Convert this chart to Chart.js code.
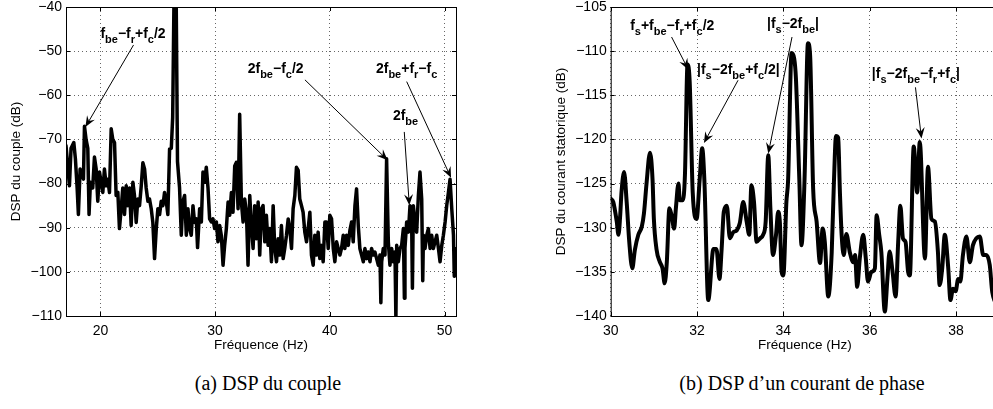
<!DOCTYPE html>
<html lang="fr">
<head>
<meta charset="utf-8">
<script src="https://cdn.jsdelivr.net/npm/chart.js@4.4.0/dist/chart.umd.min.js"></script>
<style>
  html, body { margin: 0; padding: 0; background: #fff; overflow: hidden; width: 993px; height: 409px; }
  canvas { position: absolute; top: 0; }
  #chartCouple { left: 0; }
  #chartCourant { left: 540px; }
  .legende { position: absolute; top: 371px; width: 320px; line-height: 24px; text-align: center;
             font-family: 'Liberation Serif', 'DejaVu Serif', serif; font-size: 20px; color: #000; white-space: nowrap; }
</style>
</head>
<body>
<canvas id="chartCouple" width="480" height="360"></canvas>
<canvas id="chartCourant" width="470" height="360"></canvas>
<div class="legende" style="left:108px">(a) DSP du couple</div>
<div class="legende" style="left:642px">(b) DSP d’un courant de phase</div>

<script>
// Données : DSP du couple (Hz, dB)
const freqCouple = [
  17.00, 17.15, 17.30, 17.44, 17.68, 17.82, 17.97, 18.08, 18.23, 18.37, 18.52, 18.61, 18.75, 18.90, 19.01, 19.13,
  19.33, 19.48, 19.63, 19.77, 19.92, 20.06, 20.21, 20.35, 20.50, 20.64, 20.79, 20.94, 21.08, 21.23, 21.37, 21.52,
  21.66, 21.81, 21.95, 22.10, 22.25, 22.39, 22.54, 22.68, 22.83, 22.97, 23.12, 23.26, 23.41, 23.56, 23.70, 23.85,
  23.99, 24.14, 24.28, 24.43, 24.57, 24.72, 24.87, 25.01, 25.16, 25.30, 25.45, 25.59, 25.74, 25.88, 26.03, 26.18,
  26.30, 26.45, 26.58, 26.72, 26.90, 27.05, 27.19, 27.34, 27.49, 27.63, 27.78, 27.92, 28.07, 28.21, 28.36, 28.47,
  28.65, 28.80, 28.94, 29.09, 29.23, 29.38, 29.52, 29.67, 29.81, 29.96, 30.11, 30.25, 30.40, 30.54, 30.69, 30.83,
  30.98, 31.13, 31.27, 31.42, 31.56, 31.71, 31.85, 32.00, 32.14, 32.29, 32.44, 32.58, 32.73, 32.87, 33.02, 33.16,
  33.31, 33.45, 33.60, 33.75, 33.89, 34.04, 34.18, 34.33, 34.47, 34.62, 34.76, 34.91, 35.06, 35.20, 35.35, 35.49,
  35.64, 35.78, 35.93, 36.07, 36.22, 36.37, 36.51, 36.66, 36.80, 36.95, 37.09, 37.24, 37.38, 37.53, 37.67, 37.82,
  37.97, 38.11, 38.26, 38.40, 38.55, 38.69, 38.84, 38.98, 39.13, 39.28, 39.42, 39.57, 39.71, 39.86, 40.00, 40.15,
  40.30, 40.44, 40.59, 40.73, 40.88, 41.02, 41.17, 41.31, 41.46, 41.61, 41.75, 41.90, 42.04, 42.19, 42.33, 42.48,
  42.62, 42.77, 42.92, 43.06, 43.21, 43.35, 43.50, 43.64, 43.79, 43.93, 44.08, 44.23, 44.37, 44.45, 44.52, 44.66,
  44.81, 44.95, 45.10, 45.24, 45.39, 45.54, 45.68, 45.76, 45.83, 45.97, 46.12, 46.26, 46.41, 46.50, 46.55, 46.70,
  46.85, 46.99, 47.14, 47.20, 47.28, 47.43, 47.57, 47.72, 47.86, 48.01, 48.10, 48.16, 48.30, 48.45, 48.59, 48.74,
  48.88, 49.03, 49.17, 49.32, 49.47, 49.61, 49.76, 49.90, 50.05, 50.19, 50.34, 50.48, 50.63, 50.78, 50.85, 50.92,
  51.07
]
const dspCouple = [
  -71.4, -76.0, -80.5, -72.0, -70.7, -74.4, -81.0, -87.0, -76.7, -77.4, -79.0, -67.0, -70.0, -72.0, -87.0, -79.7,
  -81.0, -74.0, -76.7, -84.0, -77.4, -79.7, -82.0, -76.7, -80.5, -79.0, -82.0, -67.6, -70.0, -70.7, -82.7, -82.0,
  -90.2, -85.7, -81.0, -87.0, -80.5, -85.0, -81.0, -89.5, -79.7, -82.7, -88.8, -83.5, -85.0, -80.5, -75.3, -76.7,
  -81.0, -84.0, -83.5, -85.7, -88.8, -97.0, -90.2, -85.7, -87.0, -84.0, -85.0, -82.0, -84.0, -87.0, -72.2, -72.0,
  -65.0, -30.0, -30.0, -75.0, -81.0, -91.7, -84.0, -82.7, -91.7, -85.7, -90.2, -91.7, -85.0, -88.8, -88.0, -94.5,
  -85.7, -88.7, -77.4, -79.7, -76.3, -81.0, -88.0, -88.7, -88.0, -90.2, -88.7, -93.2, -89.5, -91.7, -98.5, -94.0,
  -90.2, -84.2, -87.2, -82.0, -86.5, -76.0, -75.2, -85.7, -64.3, -84.2, -88.7, -83.5, -86.5, -98.5, -82.7, -89.5,
  -94.7, -85.0, -92.5, -84.2, -96.2, -85.7, -85.0, -93.2, -87.2, -94.0, -90.2, -97.7, -85.0, -94.7, -97.7, -92.5,
  -96.2, -89.5, -97.0, -94.7, -91.7, -88.0, -90.2, -94.7, -85.7, -82.7, -76.3, -77.0, -83.5, -85.0, -86.5, -91.0,
  -93.2, -90.2, -86.5, -96.2, -98.5, -91.7, -96.2, -91.0, -97.0, -94.0, -97.7, -88.7, -88.7, -94.7, -87.2, -88.0,
  -94.7, -97.7, -93.2, -94.7, -96.2, -94.7, -91.7, -94.7, -91.7, -94.0, -90.6, -88.7, -93.2, -85.0, -81.2, -89.5,
  -94.7, -96.2, -97.7, -94.7, -97.0, -95.5, -97.7, -94.7, -96.2, -95.5, -97.0, -98.5, -96.2, -107.0, -97.7, -94.7,
  -96.2, -74.4, -93.2, -98.5, -94.7, -97.7, -95.5, -110.5, -94.0, -97.7, -94.7, -94.0, -90.2, -106.0, -94.7, -88.7,
  -91.0, -85.0, -90.2, -103.7, -85.0, -88.7, -91.0, -82.7, -77.4, -83.5, -102.0, -91.7, -94.7, -91.7, -90.2, -94.7,
  -91.7, -94.7, -93.2, -91.7, -94.7, -97.7, -94.0, -91.7, -88.7, -85.0, -82.0, -79.0, -85.7, -91.7, -101.0, -94.7,
  -96.0
]

// Données : DSP d'un courant de phase (Hz, dB)
const freqCourant = [
  30.00, 30.06, 30.14, 30.18, 30.22, 30.25, 30.31, 30.37, 30.43, 30.50, 30.56, 30.64, 30.72, 30.77, 30.83, 30.91,
  30.97, 31.00, 31.06, 31.14, 31.20, 31.25, 31.30, 31.36, 31.41, 31.47, 31.51, 31.57, 31.60, 31.67, 31.72, 31.78,
  31.83, 31.90, 31.99, 32.06, 32.12, 32.17, 32.26, 32.38, 32.45, 32.52, 32.57, 32.62, 32.69, 32.76, 32.84, 32.92,
  32.99, 33.07, 33.15, 33.21, 33.26, 33.32, 33.38, 33.46, 33.53, 33.59, 33.65, 33.70, 33.76, 33.83, 33.88, 33.92,
  33.96, 34.00, 34.07, 34.11, 34.19, 34.25, 34.29, 34.37, 34.42, 34.49, 34.57, 34.62, 34.69, 34.77, 34.85, 34.91,
  34.96, 35.04, 35.12, 35.17, 35.22, 35.27, 35.31, 35.35, 35.40, 35.46, 35.54, 35.62, 35.66, 35.71, 35.77, 35.85,
  35.91, 35.96, 36.04, 36.12, 36.16, 36.22, 36.27, 36.35, 36.41, 36.46, 36.53, 36.60, 36.66, 36.71, 36.77, 36.83,
  36.89, 36.93, 37.02, 37.10, 37.16, 37.28, 37.35, 37.43, 37.51, 37.58, 37.62, 37.68, 37.74, 37.82, 37.87, 37.93,
  37.99, 38.05, 38.10, 38.16, 38.24, 38.32, 38.39, 38.47, 38.55, 38.63, 38.70, 38.78, 38.84, 39.00
]
const dspCourant = [
  -126.7, -127.1, -129.3, -130.8, -128.6, -126.0, -123.7, -127.1, -131.6, -134.6, -132.5, -130.8, -129.9, -128.4, -125.0, -121.5,
  -124.6, -129.0, -132.4, -133.9, -134.6, -136.3, -133.9, -127.8, -128.6, -130.1, -127.8, -125.0, -126.9, -126.9, -124.0, -111.5,
  -113.5, -126.0, -129.0, -124.6, -121.0, -124.6, -138.2, -132.4, -132.4, -135.8, -132.4, -128.2, -127.5, -131.2, -130.5, -130.3,
  -129.5, -127.1, -129.3, -130.8, -125.2, -127.1, -131.6, -131.2, -130.8, -129.3, -121.8, -127.9, -133.1, -130.8, -128.2, -129.5,
  -135.0, -135.4, -127.1, -124.6, -110.2, -110.8, -113.0, -124.6, -132.0, -124.6, -109.1, -110.5, -125.6, -129.3, -134.0, -130.1,
  -131.6, -137.8, -132.8, -125.0, -119.6, -119.8, -126.0, -130.8, -133.1, -130.7, -132.8, -133.9, -133.1, -136.7, -133.5, -130.8,
  -133.5, -136.1, -135.0, -134.6, -128.6, -130.8, -132.8, -139.5, -135.8, -132.7, -135.0, -137.8, -131.6, -127.5, -131.2, -131.6,
  -135.0, -135.4, -120.8, -126.0, -120.3, -133.5, -123.1, -129.0, -129.3, -132.7, -136.5, -134.6, -130.8, -134.6, -138.2, -136.9,
  -137.2, -135.8, -136.1, -133.1, -131.0, -133.9, -132.0, -131.2, -131.0, -133.1, -133.1, -134.2, -137.3, -139.0
]

// Annotations (texte et flèche, en coordonnées des axes)
const notesCouple = [
  { text: 'f_{be}−f_{r}+f_{c}/2', at: [20.0, -47.0], from: [22.89, -48.6], to: [18.69, -67.2] },
  { text: '2f_{be}−f_{c}/2', at: [32.84, -55.0], from: [37.83, -56.5], to: [45.04, -74.7] },
  { text: '2f_{be}+f_{r}−f_{c}', at: [44.02, -55.0], from: [46.70, -56.9], to: [50.57, -78.7] },
  { text: '2f_{be}', at: [45.5, -65.6], from: [46.49, -68.3], to: [46.93, -84.9] }
]
const notesCourant = [
  { text: 'f_{s}+f_{be}−f_{r}+f_{c}/2', at: [30.45, -107.6], from: [31.41, -108.4], to: [31.80, -112.1] },
  { text: '|f_{s}−2f_{be}+f_{c}/2|', at: [32.0, -112.6], from: [32.95, -113.3], to: [32.16, -120.4] },
  { text: '|f_{s}−2f_{be}|', at: [33.62, -107.4], from: [34.20, -108.4], to: [33.65, -121.6] },
  { text: '|f_{s}−2f_{be}−f_{r}+f_{c}|', at: [36.05, -113.0], from: [37.06, -114.1], to: [37.20, -119.9] }
]

Chart.defaults.font.family = '"Liberation Sans", Arial, Helvetica, sans-serif'
Chart.defaults.color = '#000'

const moins = v => String(v).replace('-', '−')

// Texte avec indices : f_{be} -> f + indice "be"
function drawRich(ctx, str, x, y) {
    const parts = str.split(/_\{([^}]*)\}/)
    parts.forEach((p, i) => {
        const sub = i % 2 === 1
        ctx.font = sub ? 'bold 11px "Liberation Sans", Arial' : 'bold 14px "Liberation Sans", Arial'
        ctx.fillText(p, x, y + (sub ? 5 : 0))
        x += ctx.measureText(p).width
    })
}

function drawArrow(ctx, x0, y0, x1, y1) {
    const a = Math.atan2(y1 - y0, x1 - x0)
    ctx.beginPath()
    ctx.moveTo(x0, y0)
    ctx.lineTo(x1 - 6 * Math.cos(a), y1 - 6 * Math.sin(a))
    ctx.stroke()
    ctx.save()
    ctx.translate(x1, y1)
    ctx.rotate(a)
    ctx.beginPath()
    ctx.moveTo(0, 0)
    ctx.lineTo(-11, -4.5)
    ctx.lineTo(-7, 0)
    ctx.lineTo(-11, 4.5)
    ctx.closePath()
    ctx.fill()
    ctx.restore()
}

// Cadre, graduations intérieures (style MATLAB) et annotations
function boxPlugin(notes) {
    return {
        id: 'cadre',
        afterDatasetsDraw(chart) {
            const { ctx, chartArea: a, scales: { x, y } } = chart
            ctx.save()
            ctx.strokeStyle = '#000'
            ctx.fillStyle = '#000'
            ctx.lineWidth = 1
            ctx.strokeRect(a.left + 0.5, a.top + 0.5, a.right - a.left, a.bottom - a.top)
            ctx.beginPath()
            x.ticks.forEach(t => {
                const px = Math.round(x.getPixelForValue(t.value)) + 0.5
                ctx.moveTo(px, a.bottom); ctx.lineTo(px, a.bottom - 4)
                ctx.moveTo(px, a.top); ctx.lineTo(px, a.top + 4)
            })
            y.ticks.forEach(t => {
                const py = Math.round(y.getPixelForValue(t.value)) + 0.5
                ctx.moveTo(a.left, py); ctx.lineTo(a.left + 4, py)
                ctx.moveTo(a.right, py); ctx.lineTo(a.right - 4, py)
            })
            ctx.stroke()

            ctx.textBaseline = 'alphabetic'
            notes.forEach(n => {
                drawRich(ctx, n.text, x.getPixelForValue(n.at[0]), y.getPixelForValue(n.at[1]))
                drawArrow(ctx,
                    x.getPixelForValue(n.from[0]), y.getPixelForValue(n.from[1]),
                    x.getPixelForValue(n.to[0]), y.getPixelForValue(n.to[1]))
            })
            ctx.restore()
        }
    }
}

function printDspChart(id, freq, dsp, cfg) {

    const data = {
        datasets: [{
            data: freq.map((f, i) => ({ x: f, y: dsp[i] })),
            borderColor: '#000',
            borderWidth: cfg.lineWidth,
            pointRadius: 0,
            cubicInterpolationMode: cfg.smooth ? 'monotone' : 'default',
            borderJoinStyle: 'round',
            borderCapStyle: 'round'
        }]
    }

    const options = {
        responsive: false,
        animation: false,
        devicePixelRatio: 1,
        layout: { padding: { top: 7, right: cfg.padRight, left: 0, bottom: 0 } },
        plugins: { legend: { display: false }, tooltip: { enabled: false } },
        scales: {
            x: {
                type: 'linear',
                min: cfg.xMin, max: cfg.xMax,
                ticks: { stepSize: cfg.xStep, includeBounds: false, padding: 7, font: { size: 14 }, callback: moins },
                grid: { color: 'rgba(0,0,0,0.6)', drawTicks: false },
                border: { display: false, dash: [1, 3] },
                title: { display: true, text: 'Fréquence (Hz)', font: { size: 13.5 }, padding: { top: 0, bottom: 7 } },
                afterFit: s => { s.height = 44; s.paddingLeft = 0; s.paddingRight = 0 }
            },
            y: {
                min: cfg.yMin, max: cfg.yMax,
                ticks: { stepSize: cfg.yStep, padding: 4, font: { size: 14 }, callback: moins },
                grid: { color: 'rgba(0,0,0,0.6)', drawTicks: false },
                border: { display: false, dash: [1, 3] },
                title: { display: true, text: cfg.yTitle, font: { size: 13.5 }, padding: { top: cfg.yTitlePad, bottom: 0 } },
                afterFit: s => { s.width = cfg.yWidth; s.paddingTop = 0; s.paddingBottom = 0 }
            }
        }
    }

    new Chart(id, { type: 'line', data, options, plugins: [boxPlugin(cfg.notes)] })
}

printDspChart('chartCouple', freqCouple, dspCouple, {
    xMin: 17, xMax: 51, xStep: 10, yMin: -110, yMax: -40, yStep: 10,
    yTitle: 'DSP du couple (dB)', yTitlePad: 8, yWidth: 66, padRight: 24,
    lineWidth: 3.5, smooth: false, notes: notesCouple
})

printDspChart('chartCourant', freqCourant, dspCourant, {
    xMin: 30, xMax: 39, xStep: 2, yMin: -140, yMax: -105, yStep: 5,
    yTitle: 'DSP du courant statorique (dB)', yTitlePad: 13, yWidth: 70.7, padRight: 10.8,
    lineWidth: 4, smooth: true, notes: notesCourant
})
</script>
</body>
</html>
